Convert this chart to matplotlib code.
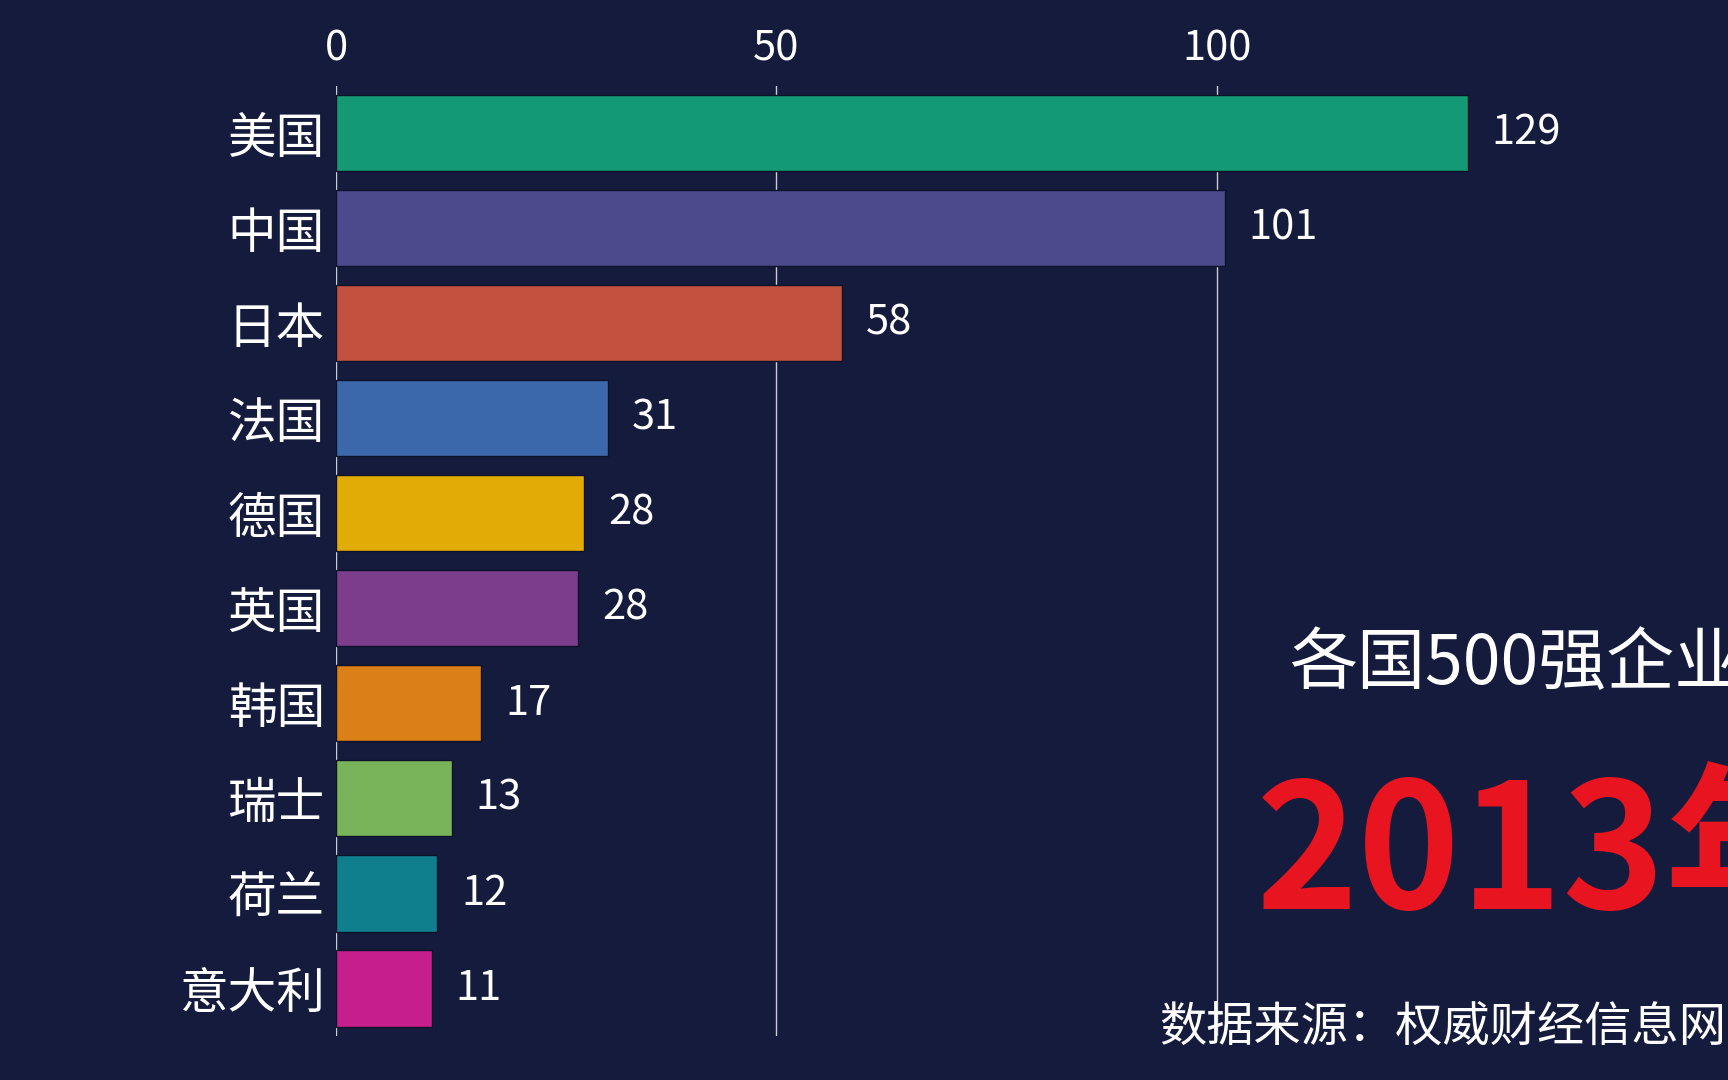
import matplotlib
matplotlib.use("Agg")
import matplotlib.pyplot as plt

plt.rcParams['font.family'] = ['Noto Sans CJK SC', 'DejaVu Sans']

countries = ['美国', '中国', '日本', '法国', '德国', '英国', '韩国', '瑞士', '荷兰', '意大利']
bar_values = [128.5, 100.9, 57.5, 30.9, 28.2, 27.5, 16.5, 13.2, 11.5, 10.9]
value_labels = ['129', '101', '58', '31', '28', '28', '17', '13', '12', '11']
colors = ['#139a74', '#4b4a8c', '#c2523f', '#3b68ab', '#e2ac06',
          '#7d3d8d', '#db8016', '#79b35a', '#0f7f8e', '#c61f8d']
xticks = [0, 50, 100]
title_text = '各国500强企业数量'
year_text = '2013年'
source_text = '数据来源：权威财经信息网'

W, H = 1728, 1080
BG = '#151b3c'
fig = plt.figure(figsize=(W / 100, H / 100), dpi=100, facecolor=BG)
ax = fig.add_axes([336 / W, 44 / H, 1189 / W, 950 / H])
ax.set_facecolor('none')

ypos = list(range(len(countries)))
ax.barh(ypos, bar_values, height=0.8, color=colors, edgecolor='#0e1228',
        linewidth=1.0, zorder=2)
ax.set_ylim(len(countries) - 0.5, -0.5)
ax.set_xlim(0, 135)

for x in xticks:
    ax.axvline(x, color='#c9cbd6', lw=1.0, zorder=1)

ax.set_yticks(ypos)
ax.set_yticklabels(countries, fontsize=35, color='white')
ax.set_xticks(xticks)
ax.set_xticklabels([str(t) for t in xticks], fontsize=30, color='white')
ax.xaxis.tick_top()
ax.tick_params(axis='x', length=0, pad=12)
ax.tick_params(axis='y', length=0, pad=8)
for s in ax.spines.values():
    s.set_visible(False)

for y, v, lab in zip(ypos, bar_values, value_labels):
    ax.annotate(lab, xy=(v, y), xytext=(17, 0), textcoords='offset points',
                ha='left', va='center', fontsize=30, color='white')

fig.text(1289 / W, 1 - 665 / H, title_text, fontsize=49, color='white',
         fontweight='light', ha='left', va='center')
fig.text(1256 / W, 1 - 909 / H, year_text, fontsize=125, color='#e8141f',
         fontweight='bold', ha='left', va='baseline')
fig.text(1159 / W, 1 - 1027 / H, source_text, fontsize=34, color='white',
         ha='left', va='center')

fig.savefig('out.png', dpi=100, facecolor=BG)
